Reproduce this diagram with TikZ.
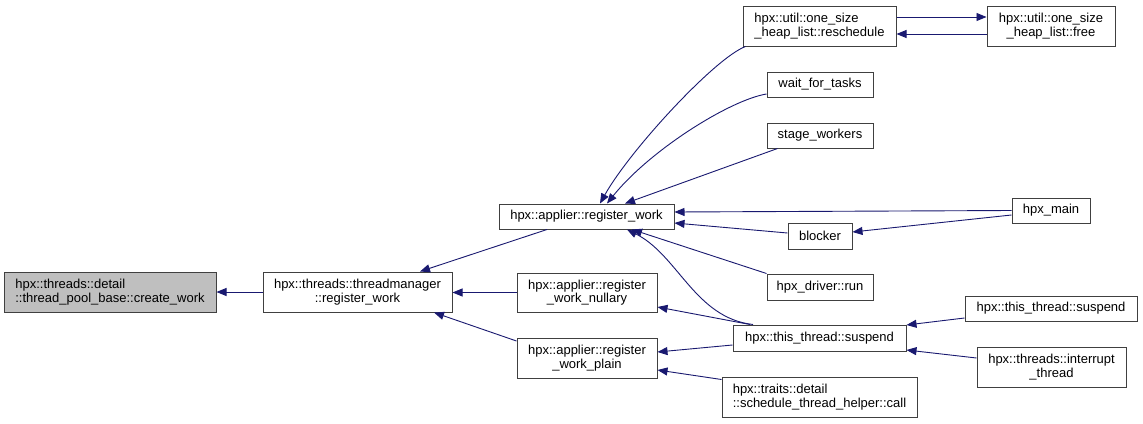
\documentclass[tikz,border=0pt]{standalone}
\usepackage{fontspec}
\setmainfont{Liberation Sans}
\usetikzlibrary{arrows.meta}
\definecolor{edgeblue}{HTML}{191970}
\definecolor{boxgray}{HTML}{BFBFBF}
\definecolor{boxline}{HTML}{404040}
\begin{document}
\begin{tikzpicture}[x=1pt,y=-1pt,
  fbox/.style={draw=boxline,line width=1pt,fill=white,inner sep=0pt,
    font=\fontsize{13}{13.6}\selectfont},
  cbox/.style={fbox,align=center},
  lbox/.style={fbox,align=left},
  edge/.style={draw=edgeblue,line width=0.9pt,-{Triangle[length=10pt,width=8pt]}}]
\useasboundingbox (0,0) rectangle (1143,423);
\fill[white] (0,0) rectangle (1143,423);
% nodes
\node[lbox,fill=boxgray,minimum width=212pt,minimum height=40pt] (n1) at (110,292)
  {hpx::threads::detail\\::thread\_pool\_base::create\_work};
\node[cbox,minimum width=189pt,minimum height=40pt] (n2) at (357.5,292)
  {hpx::threads::threadmanager\\::register\_work};
\node[cbox,minimum width=175pt,minimum height=25pt] (n3) at (586.5,216.5)
  {hpx::applier::register\_work};
\node[cbox,minimum width=140pt,minimum height=39pt] (n4) at (587,292.5)
  {hpx::applier::register\\\_work\_nullary};
\node[cbox,minimum width=140pt,minimum height=40pt] (n5) at (587,358)
  {hpx::applier::register\\\_work\_plain};
\node[lbox,minimum width=153pt,minimum height=40pt] (n6) at (819.5,26)
  {hpx::util::one\_size\\\_heap\_list::reschedule};
\node[cbox,minimum width=106pt,minimum height=25pt] (n7) at (820,84.5)
  {wait\_for\_tasks};
\node[cbox,minimum width=106pt,minimum height=25pt] (n8) at (820,135.5)
  {stage\_workers};
\node[cbox,minimum width=64pt,minimum height=26pt] (n9) at (820,236)
  {blocker};
\node[cbox,minimum width=106pt,minimum height=26pt] (n10) at (820,287)
  {hpx\_driver::run};
\node[cbox,minimum width=173pt,minimum height=26pt] (n11) at (819.5,338)
  {hpx::this\_thread::suspend};
\node[lbox,minimum width=195pt,minimum height=40pt] (n12) at (819.5,397)
  {hpx::traits::detail\\::schedule\_thread\_helper::call};
\node[cbox,minimum width=128pt,minimum height=40pt] (n13) at (1051,26)
  {hpx::util::one\_size\\\_heap\_list::free};
\node[cbox,minimum width=78pt,minimum height=25pt] (n14) at (1051,210.5)
  {hpx\_main};
\node[cbox,minimum width=172pt,minimum height=25pt] (n15) at (1051,308.5)
  {hpx::this\_thread::suspend};
\node[cbox,minimum width=149pt,minimum height=40pt] (n16) at (1051.5,367)
  {hpx::threads::interrupt\\\_thread};
% edges (caller -> callee)
\draw[edge] (n2.west) -- (n1.east);
\draw[edge] ([xshift=-39.5pt]n3.south) -- ([xshift=62.5pt]n2.north);
\draw[edge] (n4.west) -- ([yshift=-0.5pt]n2.east);
\draw[edge] ([yshift=17pt]n5.west) -- ([xshift=76.5pt]n2.south);
\draw[edge] ([xshift=3pt]n6.south west) .. controls (715,58) and (630,150) .. ([xshift=13.5pt]n3.north);
\draw[edge] ([yshift=-9.5pt]n7.west) .. controls (730,100) and (650,150) .. ([xshift=20.5pt]n3.north);
\draw[edge] ([xshift=11pt]n8.south west) -- ([xshift=38.5pt]n3.north);
\draw[edge] (n14.west) -- ([yshift=4.5pt]n3.east);
\draw[edge] ([yshift=3pt]n9.west) -- ([yshift=-6.5pt]n3.east);
\draw[edge] (n10.north west) -- ([xshift=45.5pt]n3.south);
\draw[edge] ([xshift=-66.5pt]n11.north) .. controls (695,318) and (678,255) .. ([xshift=40.5pt]n3.south);
\draw[edge] ([xshift=-69.5pt]n11.north) -- ([yshift=-14.5pt]n4.east);
\draw[edge] ([yshift=-7pt]n11.west) -- ([yshift=6pt]n5.east);
\draw[edge] ([yshift=-3pt]n12.north west) -- ([yshift=-12pt]n5.east);
\draw[edge] ([yshift=9pt]n6.east) -- ([yshift=9pt]n13.west);
\draw[edge] ([yshift=-8pt]n13.west) -- ([yshift=-8pt]n6.east);
\draw[edge] ([yshift=-4.5pt]n14.west) -- ([yshift=4pt]n9.east);
\draw[edge] ([yshift=-9.5pt]n15.west) -- ([yshift=13pt]n11.east);
\draw[edge] ([yshift=9pt]n16.west) -- ([yshift=-12pt]n11.east);
\end{tikzpicture}
\end{document}
